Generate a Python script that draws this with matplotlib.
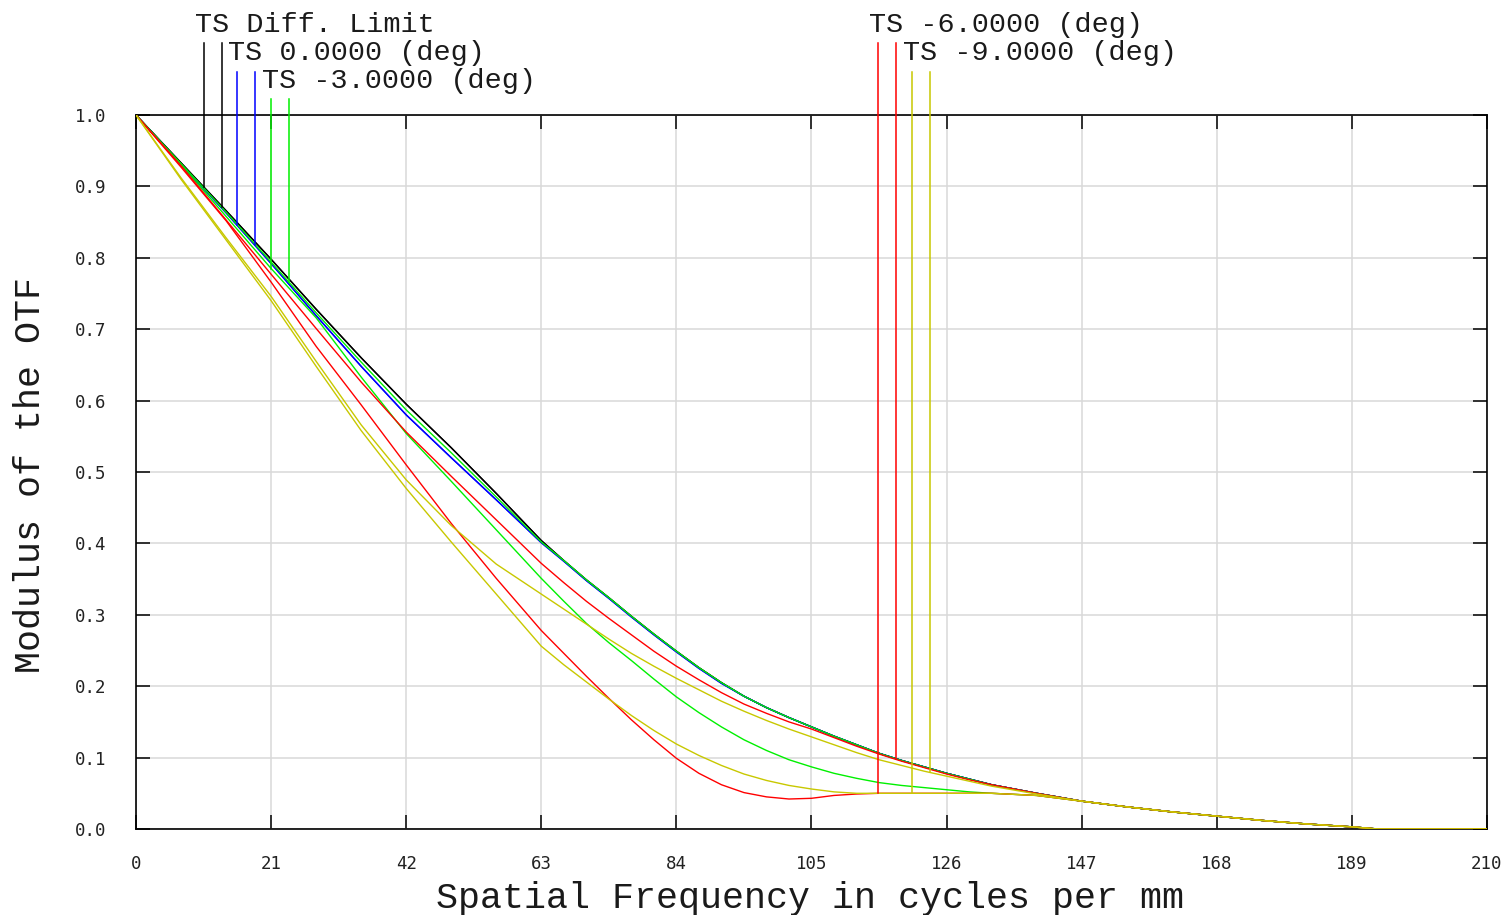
import numpy as np
import matplotlib
matplotlib.use('Agg')
import matplotlib.pyplot as plt
from matplotlib.ticker import FormatStrFormatter

# spatial frequency grid (cycles per mm)
freq = [0, 7, 14, 21, 28, 35, 42, 49, 56, 63, 66.5, 70, 73.5, 77, 80.5, 84,
        87.5, 91, 94.5, 98, 101.5, 105, 108.5, 112, 115.5, 119, 122.5, 126,
        129.5, 133, 140, 147, 154, 161, 168, 175, 182, 189, 193, 210]

tail = [0.050, 0.039, 0.031, 0.024, 0.018, 0.012, 0.007, 0.003, 0.000, 0.000]

diff_limit = [1.000, 0.933, 0.866, 0.798, 0.728, 0.660, 0.595, 0.534, 0.470, 0.404,
              0.376, 0.349, 0.324, 0.298, 0.273, 0.249, 0.226, 0.205, 0.186, 0.170,
              0.156, 0.143, 0.130, 0.118, 0.106, 0.096, 0.087, 0.078, 0.070, 0.062] + tail

deg0 = [1.000, 0.931, 0.863, 0.792, 0.719, 0.648, 0.580, 0.520, 0.461, 0.401,
        0.375, 0.348, 0.323, 0.297, 0.272, 0.248, 0.225, 0.204, 0.186, 0.170,
        0.156, 0.143, 0.130, 0.118, 0.106, 0.096, 0.087, 0.078, 0.070, 0.062] + tail

deg3_t = [1.000, 0.930, 0.858, 0.785, 0.716, 0.633, 0.554, 0.487, 0.419, 0.351,
          0.319, 0.288, 0.261, 0.236, 0.210, 0.185, 0.163, 0.143, 0.125, 0.110,
          0.097, 0.087, 0.078, 0.071, 0.065, 0.061, 0.058, 0.055, 0.052, 0.050,
          0.047, 0.039, 0.031, 0.024, 0.018, 0.012, 0.007, 0.003, 0.000, 0.000]
deg3_s = [1.000, 0.932, 0.864, 0.794, 0.723, 0.654, 0.587, 0.527, 0.465, 0.402,
          0.376, 0.349, 0.324, 0.298, 0.273, 0.249, 0.226, 0.205, 0.186, 0.170,
          0.156, 0.143, 0.130, 0.118, 0.106, 0.096, 0.087, 0.078, 0.070, 0.062] + tail

deg6_t = [1.000, 0.927, 0.852, 0.766, 0.676, 0.594, 0.510, 0.428, 0.351, 0.278,
          0.246, 0.214, 0.183, 0.153, 0.125, 0.099, 0.078, 0.062, 0.051, 0.045,
          0.042, 0.043, 0.047, 0.049, 0.050, 0.050, 0.050, 0.050, 0.050, 0.050,
          0.047, 0.039, 0.031, 0.024, 0.018, 0.012, 0.007, 0.003, 0.000, 0.000]
deg6_s = [1.000, 0.929, 0.853, 0.777, 0.701, 0.626, 0.556, 0.494, 0.433, 0.372,
          0.345, 0.319, 0.295, 0.272, 0.249, 0.228, 0.209, 0.191, 0.175, 0.162,
          0.150, 0.140, 0.128, 0.116, 0.105, 0.095, 0.086, 0.077, 0.069, 0.062] + tail

deg9_t = [1.000, 0.910, 0.825, 0.740, 0.648, 0.558, 0.477, 0.402, 0.329, 0.256,
          0.230, 0.206, 0.182, 0.159, 0.138, 0.119, 0.103, 0.089, 0.077, 0.068,
          0.061, 0.056, 0.052, 0.050, 0.050, 0.050, 0.050, 0.050, 0.050, 0.050,
          0.047, 0.039, 0.031, 0.024, 0.018, 0.012, 0.007, 0.003, 0.000, 0.000]
deg9_s = [1.000, 0.912, 0.828, 0.746, 0.655, 0.566, 0.489, 0.425, 0.371, 0.329,
          0.308, 0.287, 0.266, 0.246, 0.228, 0.211, 0.195, 0.179, 0.165, 0.152,
          0.140, 0.129, 0.118, 0.107, 0.097, 0.089, 0.081, 0.074, 0.067, 0.060,
          0.049, 0.039, 0.031, 0.024, 0.018, 0.012, 0.007, 0.003, 0.000, 0.000]

field_names = ['TS Diff. Limit', 'TS 0.0000 (deg)', 'TS -3.0000 (deg)',
               'TS -6.0000 (deg)', 'TS -9.0000 (deg)']
field_curves = [(diff_limit, diff_limit), (deg0, deg0), (deg3_t, deg3_s),
                (deg6_t, deg6_s), (deg9_t, deg9_s)]
colors = ['#000000', '#0000ff', '#00f000', '#ff0000', '#c8c800']

x_ticks = list(range(0, 211, 21))
y_ticks = [0.0, 0.1, 0.2, 0.3, 0.4, 0.5, 0.6, 0.7, 0.8, 0.9, 1.0]

# legend layout (marker x in data units, row above the plot)
marker_x = [10.6, 15.7, 21.0, 115.3, 120.6]
marker_row = [0, 1, 2, 0, 1]
marker_gap = 2.8
row_top = [1.101, 1.060, 1.023]
row_base = [1.1167, 1.0770, 1.0374]

W, H = 1511, 915
fig = plt.figure(figsize=(W / 100, H / 100), dpi=100)
fig.set_facecolor('white')
ax = fig.add_axes([136 / W, 1 - 829 / H, 1351 / W, 714 / H])

for (t, s), c in zip(field_curves, colors):
    ax.plot(freq, t, color=c, lw=1.0, zorder=3)
    ax.plot(freq, s, color=c, lw=1.0, zorder=3)

# legend markers dropping down to the curves
for i in range(len(field_names)):
    t, s = field_curves[i]
    c = colors[i]
    x0 = marker_x[i]
    top = row_top[marker_row[i]]
    for k, curve in enumerate((t, s)):
        xm = x0 + k * marker_gap
        ym = np.interp(xm, freq, curve)
        ax.plot([xm, xm], [top, ym], color=c, lw=1.1, clip_on=False, zorder=4)
    ax.text(x0 - 1.4, row_base[marker_row[i]], field_names[i], fontsize=20.5,
            family='Liberation Mono', color='#1a1a1a', va='baseline', ha='left',
            clip_on=False)

ax.set_xlim(0, 210)
ax.set_ylim(0, 1)
ax.set_xticks(x_ticks)
ax.set_yticks(y_ticks)
ax.yaxis.set_major_formatter(FormatStrFormatter('%.1f'))
ax.grid(True, color='#d9d9d9', lw=1.1)
ax.set_axisbelow(True)
ax.tick_params(direction='in', length=10, width=1.1, top=True, right=True,
               labelsize=12.5, labelcolor='#222222')
ax.tick_params(axis='x', pad=18.5)
ax.tick_params(axis='y', pad=21)
for lab in ax.get_xticklabels() + ax.get_yticklabels():
    lab.set_fontfamily('DejaVu Sans Mono')
for sp in ax.spines.values():
    sp.set_linewidth(1.2)
    sp.set_color('black')

fig.text(810 / W, 1 - 908 / H, 'Spatial Frequency in cycles per mm', fontsize=26.4,
         family='Liberation Mono', color='#1a1a1a', ha='center', va='baseline')
fig.text(30.5 / W, 1 - 475 / H, 'Modulus of the OTF', fontsize=26.4, rotation=90,
         family='Liberation Mono', color='#1a1a1a', ha='center', va='center')

fig.savefig('out.png', dpi=100)
